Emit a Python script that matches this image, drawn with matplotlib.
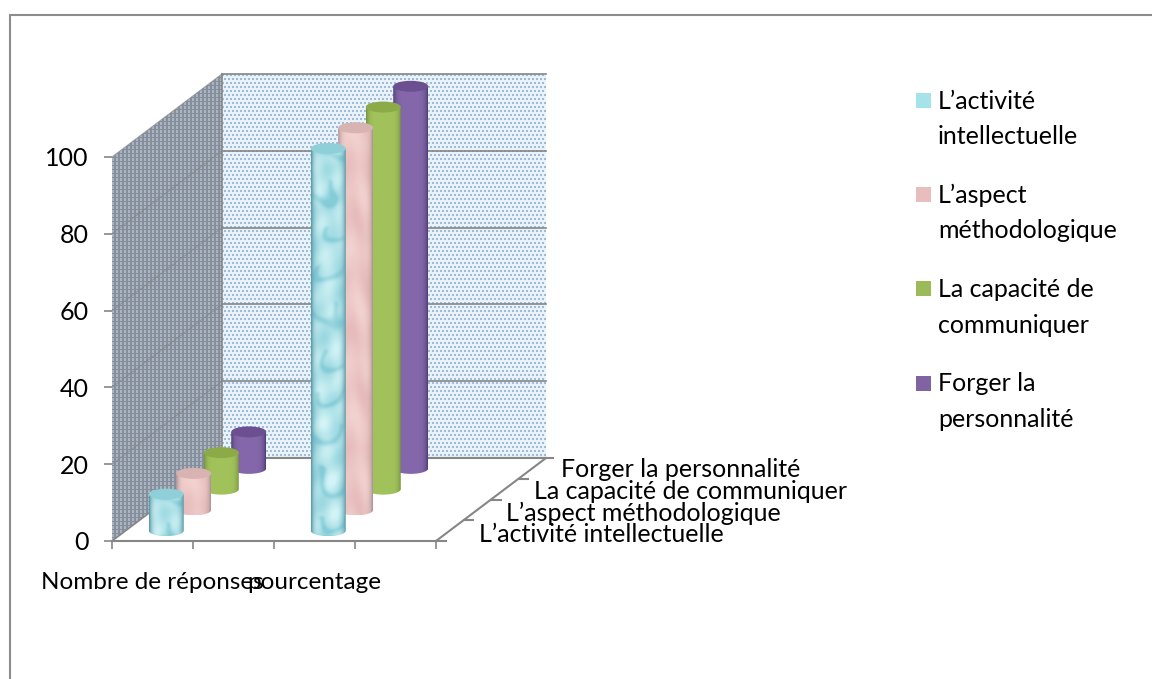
import matplotlib
matplotlib.use('Agg')
import matplotlib.pyplot as plt
import numpy as np
from matplotlib.patches import Polygon, Ellipse, Rectangle
from matplotlib.colors import to_rgb

plt.rcParams['font.family'] = ['Lato', 'DejaVu Sans']

# donnees
categories = ['Nombre de réponses', 'pourcentage']
series = ['L’activité intellectuelle', 'L’aspect méthodologique',
          'La capacité de communiquer', 'Forger la personnalité']
legend_labels = ['L’activité\nintellectuelle', 'L’aspect\nméthodologique',
                 'La capacité de\ncommuniquer', 'Forger la\npersonnalité']
nombre_reponses = [9.5, 9.5, 9.5, 9.5]
pourcentage = [99.5, 99.5, 99.5, 99.5]
y_ticks = [0, 20, 40, 60, 80, 100]

W, H = 1152, 679
FS = 18
GREY = '#868686'

# repere: plan avant du graphique en pixels
LEFT, BOTTOM, PX_X, PX_Y = 112, 541, 81.0, 3.84
DEPTH_PX_X, DEPTH_PX_Y = 110.0, 83.0
DX = DEPTH_PX_X / 4 / PX_X     # decalage par serie (unites x)
DY = DEPTH_PX_Y / 4 / PX_Y     # decalage par serie (unites valeur)
RX = 17.5 / PX_X
RY = 5.5 / PX_Y

fig = plt.figure(figsize=(W / 100, H / 100), dpi=100, facecolor='white')

# fond: cadre et legende en pixels
bg = fig.add_axes([0, 0, 1, 1])
bg.set_xlim(0, W)
bg.set_ylim(H, 0)
bg.axis('off')
bg.plot([10, 10, W], [H, 15, 15], color='#8c8c8c', lw=1.5, solid_joinstyle='miter')

ax = fig.add_axes([LEFT / W, (H - BOTTOM) / H, 4 * PX_X / W, 100 * PX_Y / H])
ax.patch.set_visible(False)


def smooth(tex, n=2):
    kernel = np.ones(3) / 3
    for _ in range(n):
        tex = np.apply_along_axis(lambda c: np.convolve(c, kernel, mode='same'), 0, tex)
        tex = np.apply_along_axis(lambda c: np.convolve(c, kernel, mode='same'), 1, tex)
    return tex


def marble(nx, ny):
    # arcs sombres irreguliers sur fond clair, comme la texture d'origine
    yy, xx = np.mgrid[0:ny, 0:nx].astype(float)
    xw = xx + 5 * np.sin(yy / 17.0) + 3 * np.sin(yy / 7.0 + xx / 9.0)
    yw = yy + 6 * np.sin(xx / 11.0 + yy / 23.0)
    tex = 0.55 + 0.3 * np.sin(xx / 5.0 + yy / 13.0) * np.sin(yy / 9.0 - xx / 14.0)
    for j in range(int(ny / 42) + 2):
        cy = j * 42.0 - 6
        cx = [24.0, 9.0, 28.0][j % 3]
        r = np.hypot(xw - cx, yw - cy)
        tex -= 0.55 * np.exp(-((r - 17.0) / 2.5) ** 2) * (yw > cy - 4)
        tex += 0.25 * np.exp(-(r / 12.0) ** 2)
    return np.clip(smooth(tex), 0, 1)


def cloudy(nx, ny):
    yy, xx = np.mgrid[0:ny, 0:nx].astype(float)
    t = np.sin(yy / 13.0 + 1.5 * np.sin(xx / 7.0)) * np.sin(yy / 31.0 + xx / 11.0)
    return 0.5 + 0.5 * t


def dots_back(nx, ny):
    yy, xx = np.mgrid[0:ny, 0:nx]
    img = np.ones((ny, nx, 3)) * np.array([0.92, 0.95, 0.98])
    shift = (yy // 4) % 2 * 2
    mask = ((xx + shift) % 4 < 2) & (yy % 4 < 2)
    img[mask] = np.array([0.62, 0.74, 0.85])
    return img


def dots_side(nx, ny):
    yy, xx = np.mgrid[0:ny, 0:nx]
    img = np.ones((ny, nx, 3)) * np.array([0.53, 0.56, 0.61])
    mask = (xx % 4 < 2) & (yy % 4 < 3)
    img[mask] = np.array([0.67, 0.71, 0.76])
    return img


def clipped_image(img, extent, clip, zorder, interp='nearest'):
    im = ax.imshow(img, extent=extent, aspect='auto', origin='upper',
                   interpolation=interp, zorder=zorder)
    im.set_clip_box(fig.bbox)
    clip.set_transform(ax.transData)
    im.set_clip_path(clip)
    return im


# murs
xd, yd = 4 * DX, 4 * DY
clipped_image(dots_back(int(4 * PX_X), int(100 * PX_Y)),
              (xd, 4 + xd, yd, 100 + yd),
              Rectangle((xd, yd), 4, 100), 0.1)
clipped_image(dots_side(int(DEPTH_PX_X), int((100 + yd) * PX_Y)),
              (0, xd, 0, 100 + yd),
              Polygon([(0, 0), (xd, yd), (xd, 100 + yd), (0, 100)]), 0.1)

for v in y_ticks[1:]:
    ax.plot([xd, 4 + xd], [v + yd, v + yd], color=GREY, lw=1.2, zorder=0.5,
            clip_on=False)
    ax.plot([0, xd], [v, v + yd], color=GREY, lw=0.8, alpha=0.7, zorder=0.5,
            clip_on=False)
ax.plot([0, xd], [0, yd], color=GREY, lw=1.2, zorder=0.5, clip_on=False)
ax.plot([xd, xd], [yd, 100 + yd], color=GREY, lw=1.2, zorder=0.5, clip_on=False)

# sol: bord droit, fond et graduations de profondeur
ax.plot([4, 4 + xd], [0, yd], color=GREY, lw=1.5, zorder=0.6, clip_on=False)
ax.plot([xd, 4 + xd + 0.09], [yd, yd], color=GREY, lw=1.5, zorder=0.6, clip_on=False)
for d in range(4):
    ax.plot([4 + d * DX, 4 + d * DX + 0.12], [d * DY, d * DY], color=GREY, lw=1.5,
            zorder=0.6, clip_on=False)

# clair, moyen, bord, dessus
CYLINDERS = [
    ('#d4f5f7', '#86cdd8', '#5f9dad', '#8fd0d8'),
    ('#f2d2d0', '#e6bcbb', '#b3979a', '#d9b3b1'),
    ('#a6c85f', '#9dbe57', '#7b9740', '#8cab48'),
    ('#8a6db0', '#7f62a5', '#54407a', '#6b4f90'),
]
TEXTURE = ['marble', 'cloudy', None, None]


def cylinder(x, v, d, colors, texture, zorder):
    light, mid, edge, top_col = colors
    x0 = x + d * DX
    base = d * DY
    top = base + v
    # forme du corps
    t = np.linspace(np.pi, 2 * np.pi, 40)
    verts = [(x0 - RX, top)]
    verts += [(x0 + RX * np.cos(a), base + RY * np.sin(a)) for a in t]
    verts += [(x0 + RX, top), (x0 - RX, top)]
    body = Polygon(verts, closed=True)
    nx, ny = 35, max(int(v * PX_Y + 12), 10)
    # ombrage horizontal
    u = np.linspace(-1, 1, nx)
    shade = 1 - np.abs(u) ** 6
    shade = shade[None, :].repeat(ny, axis=0)
    if texture == 'marble':
        tex = marble(nx, ny)
    elif texture == 'cloudy':
        tex = cloudy(nx, ny)
    else:
        tex = np.full((ny, nx), 0.5)
    c_light, c_mid, c_edge = np.array(to_rgb(light)), np.array(to_rgb(mid)), np.array(to_rgb(edge))
    col = c_mid + (c_light - c_mid) * tex[..., None]
    img = c_edge + (col - c_edge) * shade[..., None]
    clipped_image(np.clip(img, 0, 1), (x0 - RX, x0 + RX, base - RY, top), body,
                  zorder, 'bilinear')
    ax.add_patch(Ellipse((x0, top), 2 * RX, 2 * RY, facecolor=top_col,
                         edgecolor='none', zorder=zorder + 0.01, clip_on=False))


# les series du fond d'abord
for d in [3, 2, 1, 0]:
    cylinder(0.5, nombre_reponses[d], d + 0.5, CYLINDERS[d], TEXTURE[d], 5 - d)
    cylinder(2.5, pourcentage[d], d + 0.5, CYLINDERS[d], TEXTURE[d], 5 - d)

# axes
ax.set_xlim(0, 4)
ax.set_ylim(0, 100)
for name in ['top', 'right', 'left']:
    ax.spines[name].set_visible(False)
ax.spines['bottom'].set_color(GREY)
ax.spines['bottom'].set_linewidth(1.5)
ax.set_yticks(y_ticks)
ax.set_yticklabels([str(v) for v in y_ticks], fontsize=FS, color='black')
ax.tick_params(axis='y', length=6, width=1.2, color=GREY, pad=11)
ax.set_xticks([0, 1, 2, 3, 4])
ax.set_xticklabels([])
ax.tick_params(axis='x', length=6, width=1.2, color=GREY)
ax.set_xticks([0.5, 2.5], minor=True)
ax.set_xticklabels(categories, minor=True, fontsize=17.5)
ax.tick_params(axis='x', which='minor', length=0, pad=22)

# etiquettes de profondeur
for d, name in enumerate(series):
    ax.text(4 + (d + 0.5) * DX + 0.36, (d + 0.5) * DY - 1.0 + d * 0.2, name, fontsize=FS,
            ha='left', va='center', clip_on=False)

# legende
key_colors = ['#a5e3ea', '#e8bdbd', '#9bbb59', '#8064a2']
for i, label in enumerate(legend_labels):
    y0 = 101 + i * 94.2
    bg.add_patch(Rectangle((916, y0 - 8), 15, 15, facecolor=key_colors[i], edgecolor='none'))
    bg.text(938, y0 + 18, label, fontsize=FS, va='center', ha='left', linespacing=1.645)

fig.savefig('out.png', dpi=100)
